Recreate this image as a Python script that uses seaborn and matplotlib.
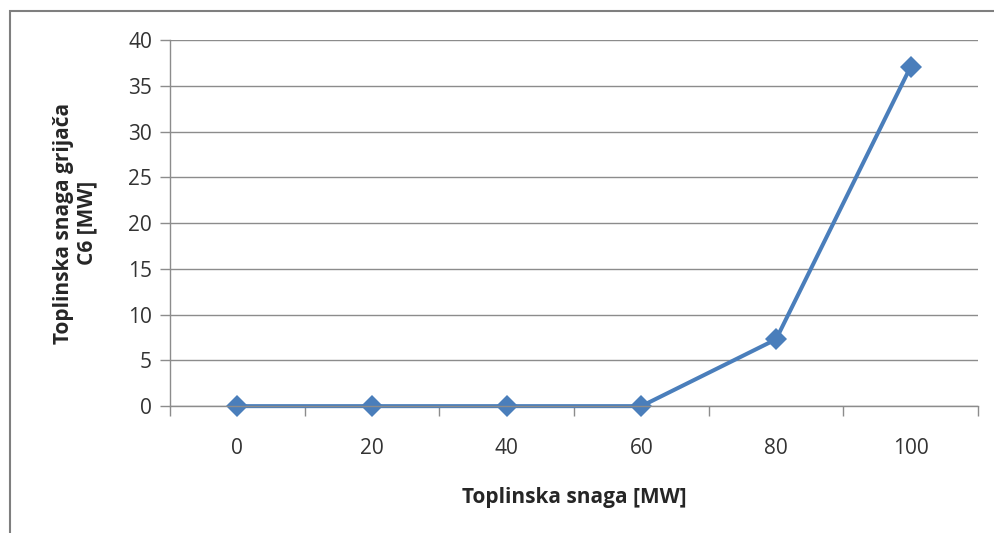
import matplotlib
matplotlib.use("Agg")
import matplotlib.pyplot as plt
import seaborn as sns
import pandas as pd
from matplotlib.patches import Rectangle
from matplotlib.ticker import FixedLocator

#values
snaga = ["0", "20", "40", "60", "80", "100"]
grijac_c6 = [0, 0, 0, 0, 7.3, 37.1]

df = pd.DataFrame({"snaga": snaga, "c6": grijac_c6})

sns.set_style("white")
plt.rcParams["font.family"] = ["Open Sans", "DejaVu Sans"]

fig = plt.figure(figsize=(9.94, 5.33), dpi=100)
ax = fig.add_axes([0.171, 0.238, 0.813, 0.687])

sns.lineplot(data=df, x="snaga", y="c6", ax=ax, color="#4A7EBB", linewidth=2.9,
             marker="D", markersize=11.5, markeredgewidth=0, sort=False)
for ln in ax.lines:
    ln.set_clip_on(False)

ax.set_xlim(-0.5, 5.5)
ax.set_ylim(0, 40)
ax.set_yticks(range(0, 41, 5))
ax.yaxis.grid(True, color="#8c8c8c", linewidth=1)
ax.xaxis.grid(False)
ax.set_axisbelow(True)

#tick marks between the categories like excel
ax.xaxis.set_minor_locator(FixedLocator([i - 0.5 for i in range(len(snaga) + 1)]))
ax.tick_params(axis="x", which="major", length=0, pad=23, labelsize=15, labelcolor="#333333")
ax.tick_params(axis="x", which="minor", bottom=True, length=7, width=1, color="#8c8c8c")
ax.tick_params(axis="y", left=True, length=7, width=1, color="#8c8c8c", pad=6,
               labelsize=15, labelcolor="#333333")

for s in ["top", "right"]:
    ax.spines[s].set_visible(False)
for s in ["left", "bottom"]:
    ax.spines[s].set_color("#8c8c8c")
    ax.spines[s].set_linewidth(1)

ax.set_xlabel("Toplinska snaga [MW]", fontsize=15, fontweight="bold", labelpad=20)
ax.set_ylabel("Toplinska snaga grijača\nC6 [MW]", fontsize=15, fontweight="bold", labelpad=22,
              linespacing=1.15)

#outer frame of the chart
fig.patches.append(Rectangle((10 / 994, -0.1), 1.2, 1.1 - 11 / 533, transform=fig.transFigure,
                             fill=False, edgecolor="#7f7f7f", linewidth=1.5))

fig.savefig("out.png", dpi=100)
